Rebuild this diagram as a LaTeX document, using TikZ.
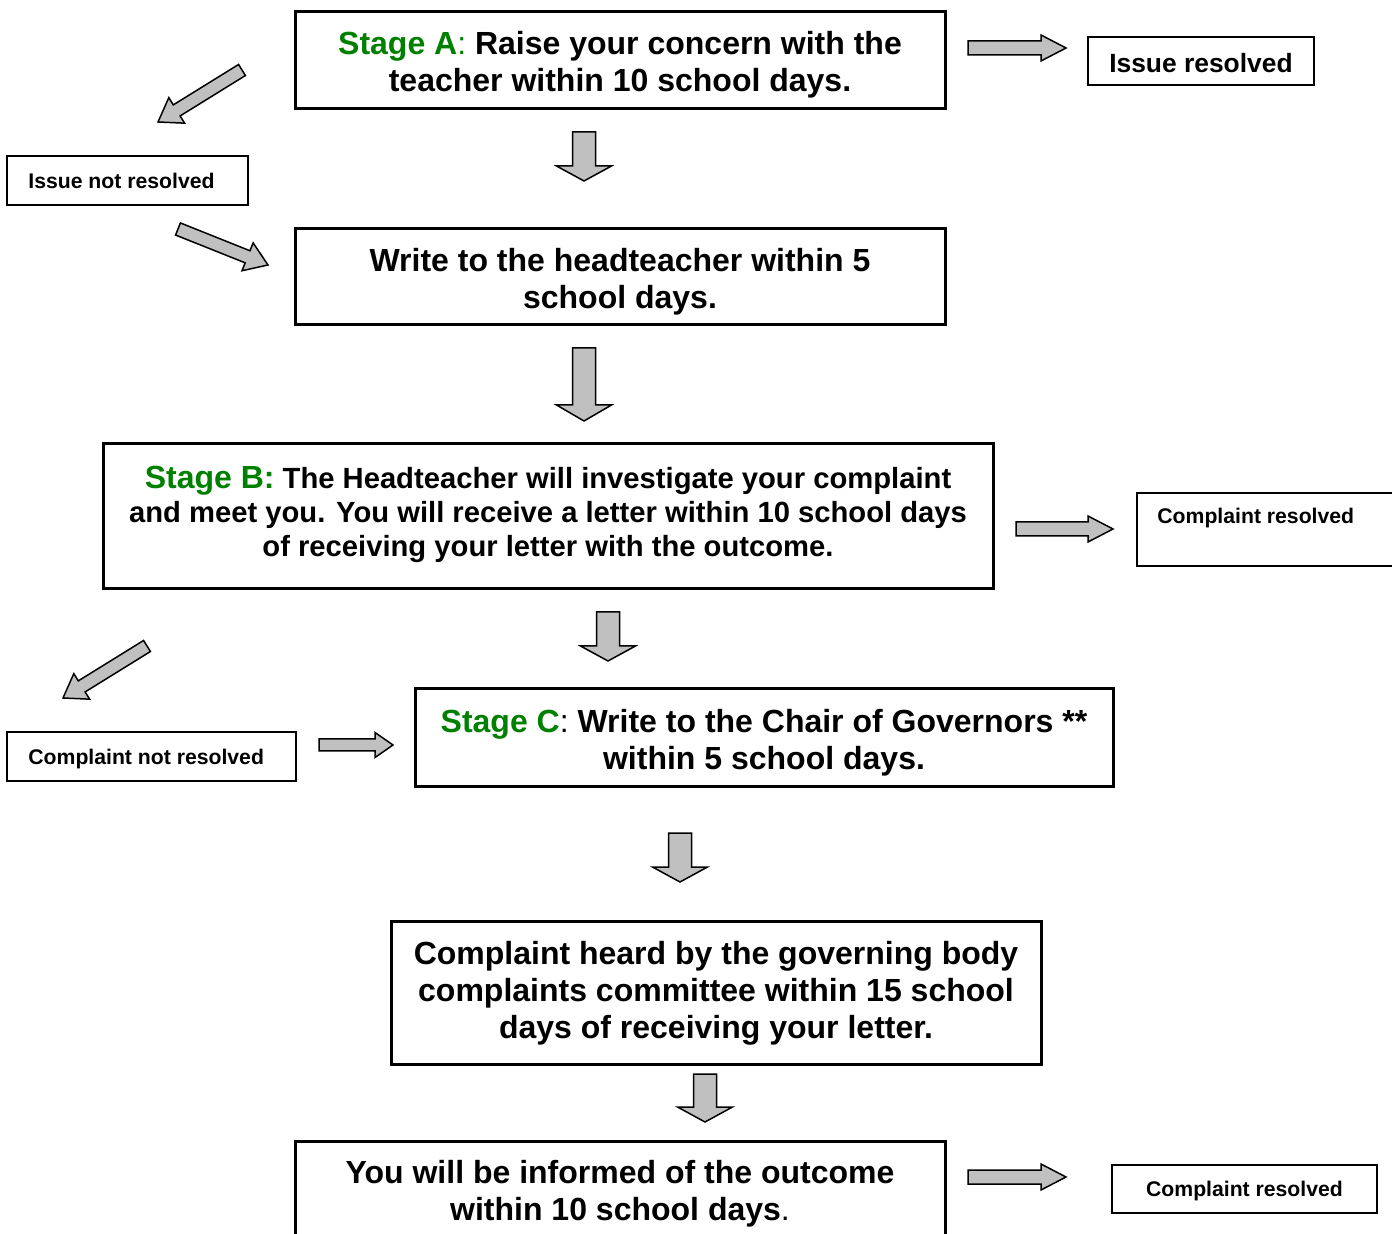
\documentclass[tikz,border=0pt]{standalone}
\usepackage{fontspec}
\setmainfont{Liberation Sans}
\usetikzlibrary{calc}
\definecolor{stagegreen}{RGB}{0,128,0}
\definecolor{arrowgray}{RGB}{192,192,192}
\tikzset{
  bigbox/.style={draw, line width=1.5pt, inner sep=0pt},
  maintext/.style={inner sep=0pt, align=center, font=\bfseries\fontsize{16}{18.5}\selectfont},
  btext/.style={inner sep=0pt, align=center, font=\bfseries\fontsize{14.6}{17}\selectfont},
  smallbox/.style={draw, line width=1pt, inner sep=0pt},
  smalltext/.style={inner sep=0pt, font=\bfseries\fontsize{10.6}{12.7}\selectfont},
  midtext/.style={inner sep=0pt, font=\bfseries\fontsize{13.2}{15.5}\selectfont},
  barrowstyle/.style={draw, line width=0.75pt, fill=arrowgray, line join=miter},
}
% block arrow: from, to, half shaft, half head, head length (numbers in pt)
\newcommand\blockarrow[5]{%
  \draw[barrowstyle] let \p1=($(#2)-(#1)$), \n1={atan2(\y1,\x1)}, \n2={veclen(\x1,\y1)} in
    [shift={(#1)}, rotate=\n1]
    (0pt,{#3*1pt}) -- ({(\n2-#5)*1pt},{#3*1pt}) -- ({(\n2-#5)*1pt},{#4*1pt})
    -- ({\n2*1pt},0pt) -- ({(\n2-#5)*1pt},{-#4*1pt}) -- ({(\n2-#5)*1pt},{-#3*1pt})
    -- (0pt,{-#3*1pt}) -- cycle;}
\begin{document}
\begin{tikzpicture}[x=0.5pt,y=-0.5pt]
\useasboundingbox (0,0) rectangle (1392,1234);

% ---- boxes ----
\node[bigbox, minimum width=325pt, minimum height=48.5pt] (A) at (620,60.5) {};
\node[maintext] (At) at (620,65)
  {\textcolor{stagegreen}{Stage A\mdseries:} Raise your concern with the\\teacher within 10 school days.};
\node[smallbox, minimum width=113pt, minimum height=24pt] (IR) at (1201,61) {};
\node[midtext] (IRt) at (1201,63) {Issue resolved};
\node[smallbox, minimum width=120.5pt, minimum height=24.5pt] (INR) at (127.5,180.5) {};
\node[smalltext, anchor=west] (INRt) at ([xshift=11pt]INR.west) {Issue not resolved};
\node[bigbox, minimum width=325pt, minimum height=48pt] (W) at (620,277) {};
\node[maintext] (Wt) at (620,281.5) {Write to the headteacher within 5\\school days.};
\node[bigbox, minimum width=445pt, minimum height=72.5pt] (B) at (548,516.5) {};
\node[btext] (Bt) at (548,514)
  {\textcolor{stagegreen}{\fontsize{16}{17}\selectfont Stage B:} The Headteacher will investigate your complaint\\
   and meet you. You will receive a letter within 10 school days\\
   of receiving your letter with the outcome.};
\node[smallbox, anchor=north west, minimum width=140pt, minimum height=36.5pt] (CR1) at (1136,492) {};
\node[smalltext, anchor=west] (CR1t) at ($(CR1.north west)+(10.5pt,-13pt)$) {Complaint resolved};
\node[smallbox, minimum width=144.5pt, minimum height=24.5pt] (CNR) at (151.5,756.5) {};
\node[smalltext, anchor=west] (CNRt) at ($(CNR.west)+(11pt,-1.5pt)$) {Complaint not resolved};
\node[bigbox, minimum width=349pt, minimum height=49pt] (C) at (764,738) {};
\node[maintext] (Ct) at (764,742.5)
  {\textcolor{stagegreen}{Stage C}\mdseries:\bfseries{} Write to the Chair of Governors **\\within 5 school days.};
\node[bigbox, minimum width=325pt, minimum height=71.5pt] (H) at (716,992.5) {};
\node[maintext] (Ht) at (716,993.5)
  {Complaint heard by the governing body\\complaints committee within 15 school\\days of receiving your letter.};
\node[bigbox, anchor=north, minimum width=325pt, minimum height=60pt] (F) at (620,1140) {};
\node[maintext] (Ft) at (620,1194)
  {You will be informed of the outcome\\within 10 school days{\mdseries.}};
\node[smallbox, minimum width=132.5pt, minimum height=24pt] (CR2) at (1244.5,1189) {};
\node[smalltext] (CR2t) at (1244.5,1191) {Complaint resolved};

% ---- arrow end points ----
\coordinate (a1s) at (968,48);   \coordinate (a1e) at (1066,48);
\coordinate (a2s) at (584,132);  \coordinate (a2e) at (584,181);
\coordinate (a3s) at (242,70);   \coordinate (a3e) at (158,122);
\coordinate (a4s) at (178,229);  \coordinate (a4e) at (268,265);
\coordinate (a5s) at (584,348);  \coordinate (a5e) at (584,421);
\coordinate (a6s) at (1016,529); \coordinate (a6e) at (1113,529);
\coordinate (a7s) at (608,612);  \coordinate (a7e) at (608,661);
\coordinate (a8s) at (147,646);  \coordinate (a8e) at (63,698);
\coordinate (a9s) at (319,745);  \coordinate (a9e) at (393,745);
\coordinate (a10s) at (680,833); \coordinate (a10e) at (680,882);
\coordinate (a11s) at (705,1074);\coordinate (a11e) at (705,1122);
\coordinate (a12s) at (968,1177);\coordinate (a12e) at (1066,1177);

% ---- block arrows ----
\blockarrow{a1s}{a1e}{3.5}{6.5}{12.5}
\blockarrow{a2s}{a2e}{5.75}{13.75}{7.5}
\blockarrow{a3s}{a3e}{3.25}{7.5}{11}
\blockarrow{a4s}{a4e}{3.25}{7.5}{11}
\blockarrow{a5s}{a5e}{5.75}{13.75}{8}
\blockarrow{a6s}{a6e}{3.5}{6.5}{12.5}
\blockarrow{a7s}{a7e}{5.75}{13.75}{7.5}
\blockarrow{a8s}{a8e}{3.25}{7.5}{11}
\blockarrow{a9s}{a9e}{3}{6.25}{9}
\blockarrow{a10s}{a10e}{5.75}{13.75}{7.5}
\blockarrow{a11s}{a11e}{5.75}{13.75}{7.5}
\blockarrow{a12s}{a12e}{3.5}{6.5}{12.5}
\end{tikzpicture}
\end{document}
